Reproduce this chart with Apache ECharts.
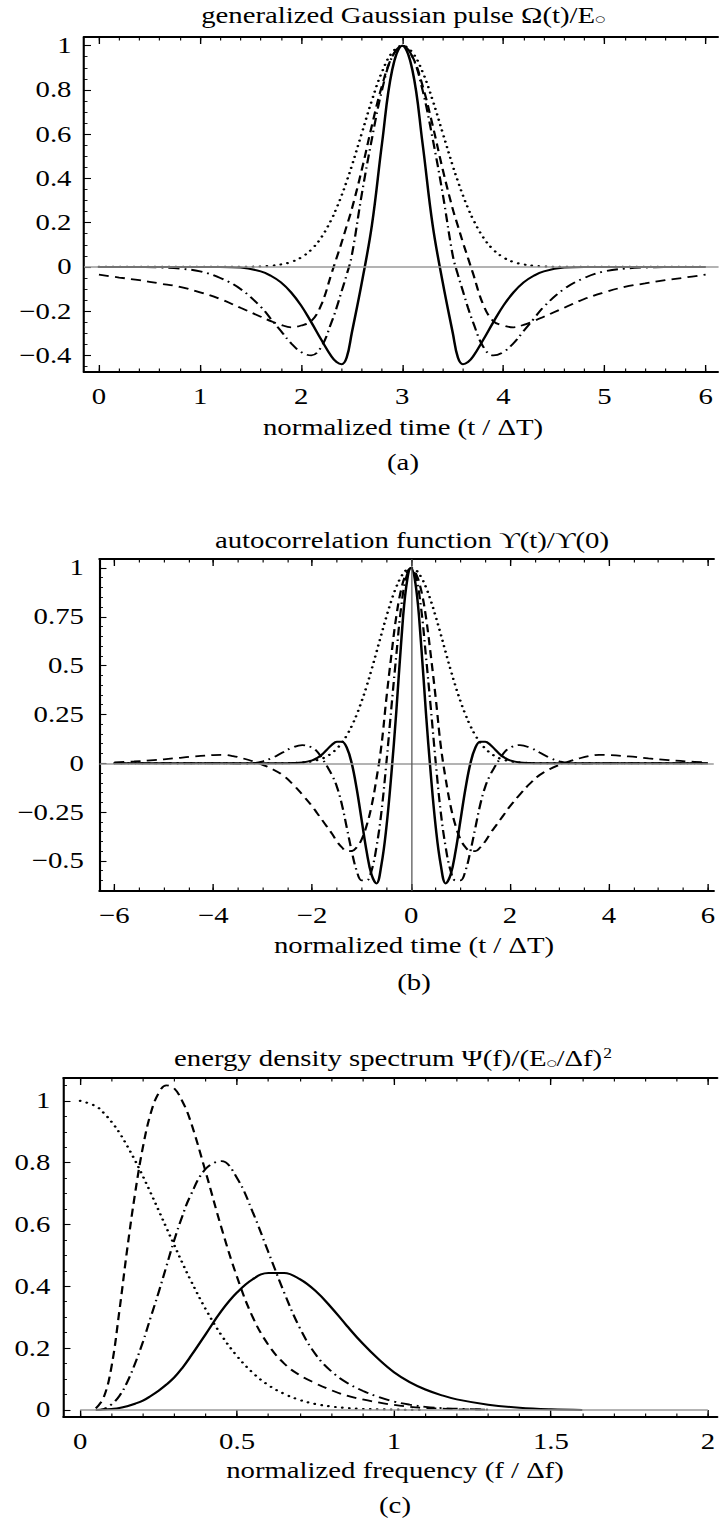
<!DOCTYPE html>
<html><head><meta charset="utf-8">
<script src="https://cdn.jsdelivr.net/npm/echarts@6/dist/echarts.min.js"></script>
<style>
html,body{margin:0;padding:0;background:#fff;overflow:hidden;}
#wrap{width:719px;height:1519px;overflow:hidden;position:relative;background:#fff;}
#chart{width:575.2px;height:1519px;transform:scaleX(1.25);transform-origin:0 0;}
</style></head><body><div id="wrap"><div id="chart"></div></div>
<script>
// ---------- Panel (a): generalized Gaussian pulse ----------
const aTime = [0,0.2,0.4,0.6,0.8,1.0,1.2,1.4,1.6,1.7,1.8,1.9,2.0,2.1,2.2,2.3,2.35,2.4,2.45,2.5,2.6,2.7,2.8,2.9,3.0,3.1,3.2,3.3,3.4,3.5,3.55,3.6,3.65,3.7,3.8,3.9,4.0,4.1,4.2,4.3,4.4,4.6,4.8,5.0,5.2,5.4,5.6,5.8,6.0];
const aSolid = [0,0,0,0,0,0,0,-0.003,-0.02,-0.04,-0.07,-0.115,-0.175,-0.25,-0.33,-0.405,-0.43,-0.44,-0.41,-0.3,-0.07,0.19,0.56,0.89,1,0.89,0.56,0.19,-0.07,-0.3,-0.41,-0.44,-0.43,-0.405,-0.33,-0.25,-0.175,-0.115,-0.07,-0.04,-0.02,-0.003,0,0,0,0,0,0,0];
const aDashed = [-0.035,-0.048,-0.06,-0.075,-0.09,-0.115,-0.145,-0.185,-0.225,-0.245,-0.262,-0.273,-0.265,-0.245,-0.17,-0.03,0.04,0.11,0.185,0.26,0.44,0.64,0.82,0.95,1,0.95,0.82,0.64,0.44,0.26,0.185,0.11,0.04,-0.03,-0.17,-0.245,-0.265,-0.273,-0.262,-0.245,-0.225,-0.185,-0.145,-0.115,-0.09,-0.075,-0.06,-0.048,-0.035];
const aDashDot = [0,0,-0.001,-0.003,-0.008,-0.02,-0.05,-0.10,-0.18,-0.235,-0.29,-0.345,-0.385,-0.40,-0.36,-0.25,-0.185,-0.11,-0.035,0.05,0.33,0.58,0.80,0.95,1,0.95,0.80,0.58,0.33,0.05,-0.035,-0.11,-0.185,-0.25,-0.36,-0.40,-0.385,-0.345,-0.29,-0.235,-0.18,-0.10,-0.05,-0.02,-0.008,-0.003,-0.001,0,0];
const aDotted = [0,0,0,0,0,0,0,0,0.002,0.005,0.011,0.022,0.043,0.078,0.134,0.215,0.266,0.323,0.387,0.456,0.605,0.754,0.882,0.969,1,0.969,0.882,0.754,0.605,0.456,0.387,0.323,0.266,0.215,0.134,0.078,0.043,0.022,0.011,0.005,0.002,0,0,0,0,0,0,0,0];
const aXTicks = [0,1,2,3,4,5,6];
const aXLabels = ['0','1','2','3','4','5','6'];
const aYTicks = [-0.4,-0.2,0,0.2,0.4,0.6,0.8,1];
const aYLabels = ['\u22120.4','\u22120.2','0','0.2','0.4','0.6','0.8','1'];

// ---------- Panel (b): autocorrelation ----------
const bTime = [-6,-5.6,-5.2,-4.8,-4.4,-4,-3.8,-3.6,-3.4,-3.2,-3,-2.8,-2.6,-2.4,-2.2,-2,-1.9,-1.8,-1.7,-1.6,-1.5,-1.4,-1.3,-1.2,-1.1,-1,-0.9,-0.8,-0.7,-0.6,-0.5,-0.4,-0.3,-0.2,-0.1,0,0.1,0.2,0.3,0.4,0.5,0.6,0.7,0.8,0.9,1,1.1,1.2,1.3,1.4,1.5,1.6,1.7,1.8,1.9,2,2.2,2.4,2.6,2.8,3,3.2,3.4,3.6,3.8,4,4.4,4.8,5.2,5.6,6];
const bSolid = [0,0,0,0,0,0,0,0,0,0,0,0,0,0.001,0.004,0.015,0.027,0.045,0.07,0.095,0.11,0.11,0.08,0.0,-0.13,-0.29,-0.45,-0.57,-0.615,-0.52,-0.33,-0.06,0.26,0.62,0.90,1,0.90,0.62,0.26,-0.06,-0.33,-0.52,-0.615,-0.57,-0.45,-0.29,-0.13,0.0,0.08,0.11,0.11,0.095,0.07,0.045,0.027,0.015,0.004,0.001,0,0,0,0,0,0,0,0,0,0,0,0,0];
const bDashed = [0.005,0.009,0.016,0.025,0.035,0.042,0.043,0.037,0.025,0.01,-0.008,-0.03,-0.06,-0.105,-0.16,-0.22,-0.255,-0.29,-0.325,-0.36,-0.40,-0.43,-0.45,-0.45,-0.43,-0.39,-0.32,-0.22,-0.08,0.09,0.33,0.55,0.75,0.89,0.97,1,0.97,0.89,0.75,0.55,0.33,0.09,-0.08,-0.22,-0.32,-0.39,-0.43,-0.45,-0.45,-0.43,-0.40,-0.36,-0.325,-0.29,-0.255,-0.22,-0.16,-0.105,-0.06,-0.03,-0.008,0.01,0.025,0.037,0.043,0.042,0.035,0.025,0.016,0.009,0.005];
const bDashDot = [0,0,0,0,0,0,-0.001,-0.002,-0.003,0.0,0.01,0.028,0.055,0.08,0.093,0.08,0.06,0.025,-0.015,-0.06,-0.12,-0.21,-0.33,-0.45,-0.55,-0.60,-0.60,-0.55,-0.43,-0.25,0.0,0.28,0.55,0.80,0.95,1,0.95,0.80,0.55,0.28,0.0,-0.25,-0.43,-0.55,-0.60,-0.60,-0.55,-0.45,-0.33,-0.21,-0.12,-0.06,-0.015,0.025,0.06,0.08,0.093,0.08,0.055,0.028,0.01,0.0,-0.003,-0.002,-0.001,0,0,0,0,0,0];
const bDotted = [0,0,0,0,0,0,0,0,0,0,0,0,0,0.001,0.004,0.010,0.016,0.024,0.036,0.053,0.075,0.105,0.143,0.191,0.249,0.317,0.394,0.479,0.569,0.661,0.750,0.832,0.902,0.955,0.989,1,0.989,0.955,0.902,0.832,0.750,0.661,0.569,0.479,0.394,0.317,0.249,0.191,0.143,0.105,0.075,0.053,0.036,0.024,0.016,0.010,0.004,0.001,0,0,0,0,0,0,0,0,0,0,0,0,0];
const bXTicks = [-6,-4,-2,0,2,4,6];
const bXLabels = ['\u22126','\u22124','\u22122','0','2','4','6'];
const bYTicks = [-0.5,-0.25,0,0.25,0.5,0.75,1];
const bYLabels = ['\u22120.5','\u22120.25','0','0.25','0.5','0.75','1'];

// ---------- Panel (c): energy density spectrum ----------
const cFreq = [0,0.05,0.075,0.1,0.125,0.15,0.175,0.2,0.225,0.25,0.275,0.3,0.325,0.35,0.4,0.45,0.5,0.55,0.6,0.65,0.7,0.75,0.8,0.85,0.9,0.95,1.0,1.05,1.1,1.15,1.2,1.3,1.4,1.5,1.6];
const cSolid = [null,0,0.001,0.003,0.006,0.012,0.02,0.03,0.045,0.062,0.082,0.105,0.135,0.17,0.245,0.32,0.38,0.423,0.443,0.443,0.423,0.385,0.332,0.272,0.215,0.165,0.122,0.09,0.066,0.048,0.034,0.017,0.007,0.002,0];
const cDashed = [null,0.005,0.04,0.14,0.32,0.52,0.70,0.85,0.96,1.025,1.05,1.04,1.0,0.94,0.77,0.59,0.43,0.30,0.21,0.15,0.112,0.086,0.064,0.046,0.034,0.024,0.016,0.010,0.006,0.004,0.002,0.001,null,null,null];
const cDashDot = [null,0,0.003,0.018,0.045,0.09,0.15,0.22,0.30,0.38,0.465,0.55,0.625,0.69,0.78,0.805,0.75,0.64,0.51,0.38,0.265,0.18,0.125,0.088,0.062,0.042,0.027,0.017,0.01,0.006,0.004,0.001,null,null,null];
const cDotted = [1,0.983,0.961,0.932,0.897,0.854,0.807,0.756,0.702,0.646,0.589,0.533,0.477,0.424,0.326,0.242,0.174,0.120,0.080,0.052,0.032,0.019,0.011,0.006,0.003,0.002,0.001,0,0,null,null,null,null,null,null];
const cXTicks = [0,0.5,1,1.5,2];
const cXLabels = ['0','0.5','1','1.5','2'];
const cYTicks = [0,0.2,0.4,0.6,0.8,1];
const cYLabels = ['0','0.2','0.4','0.6','0.8','1'];

// ---------- helpers ----------
const SX = 1.25;
const FONT = '"Liberation Serif","Times New Roman",serif';
const FS = 23;
function lab(ticks, labels) {
  return function (v) {
    for (let i = 0; i < ticks.length; i++) if (Math.abs(ticks[i] - v) < 1e-6) return labels[i];
    return '';
  };
}
function steps(lo, hi, st) {
  const r = [];
  const n = Math.round((hi - lo) / st);
  for (let i = 0; i <= n; i++) r.push(+(lo + i * st).toFixed(5));
  return r;
}
function zip(xs, ys) { return xs.map((x, i) => [x, ys[i]]); }

function xAxes(gi, min, max, ticks, labels, minor) {
  const c = { type: 'value', gridIndex: gi, min: min, max: max, splitLine: { show: false }, silent: true };
  const major = { show: true, inside: true, length: 7, customValues: ticks, lineStyle: { color: '#000', width: 1.1 } };
  const mnr = { show: true, inside: true, length: 3.5, customValues: minor, lineStyle: { color: '#000', width: 0.9 } };
  return [
    Object.assign({}, c, { position: 'bottom', axisLine: { show: true, onZero: false, lineStyle: { color: '#000', width: 2 } },
      axisTick: major, axisLabel: { show: true, customValues: ticks, formatter: lab(ticks, labels), margin: 13, color: '#000', fontFamily: FONT, fontSize: FS } }),
    Object.assign({}, c, { position: 'bottom', axisLine: { show: false, onZero: false }, axisTick: mnr, axisLabel: { show: false } }),
    Object.assign({}, c, { position: 'top', axisLine: { show: true, onZero: false, lineStyle: { color: '#000', width: 2 } }, axisTick: major, axisLabel: { show: false } }),
    Object.assign({}, c, { position: 'top', axisLine: { show: false, onZero: false }, axisTick: mnr, axisLabel: { show: false } })
  ];
}
function yAxes(gi, min, max, ticks, labels, minor, margin) {
  const c = { type: 'value', gridIndex: gi, min: min, max: max, splitLine: { show: false }, silent: true, position: 'left' };
  return [
    Object.assign({}, c, { axisLine: { show: true, onZero: false, lineStyle: { color: '#000', width: 1.7 } },
      axisTick: { show: true, inside: true, length: 5.6, customValues: ticks, lineStyle: { color: '#000', width: 1.1 } },
      axisLabel: { show: true, customValues: ticks, formatter: lab(ticks, labels), margin: margin, color: '#000', fontFamily: FONT, fontSize: FS } }),
    Object.assign({}, c, { axisLine: { show: false, onZero: false },
      axisTick: { show: true, inside: true, length: 2.8, customValues: minor, lineStyle: { color: '#000', width: 0.9 } }, axisLabel: { show: false } })
  ];
}

const STY = {
  solid: { color: '#000', width: 2, type: 'solid' },
  dashed: { color: '#000', width: 1.8, type: [8, 5] },
  dashdot: { color: '#000', width: 1.8, type: [9, 4, 1.5, 4] },
  dotted: { color: '#000', width: 2.2, type: [0.1, 5.5], cap: 'round' }
};
function line(xi, yi, xs, ys, sty) {
  return { type: 'line', xAxisIndex: xi, yAxisIndex: yi, data: zip(xs, ys), showSymbol: false, symbol: 'none',
    smooth: 0.4, lineStyle: sty, silent: true, animation: false, z: 3 };
}
function zeroLines(xi, yi, lines) {
  return { type: 'line', xAxisIndex: xi, yAxisIndex: yi, data: [], silent: true, animation: false, z: 2,
    markLine: { silent: true, symbol: 'none', animation: false, label: { show: false }, data: lines } };
}

const aRange = { xmin: -0.148, xmax: 6.13, ymin: -0.475, ymax: 1.039 };
const bRange = { xmin: -6.3, xmax: 6.12, ymin: -0.654, ymax: 1.046 };
const cRange = { xmin: -0.053, xmax: 2.03, ymin: -0.023, ymax: 1.074 };

const xAxis = [].concat(
  xAxes(0, aRange.xmin, aRange.xmax, aXTicks, aXLabels, steps(0, 6, 0.2)),
  xAxes(1, bRange.xmin, bRange.xmax, bXTicks, bXLabels, steps(-6, 6, 0.5)),
  xAxes(2, cRange.xmin, cRange.xmax, cXTicks, cXLabels, steps(0, 2, 0.1))
);
const yAxis = [].concat(
  yAxes(0, aRange.ymin, aRange.ymax, aYTicks, aYLabels, steps(-0.45, 1, 0.05), 10),
  yAxes(1, bRange.ymin, bRange.ymax, bYTicks, bYLabels, steps(-0.65, 1, 0.05), 12.5),
  yAxes(2, cRange.ymin, cRange.ymax, cYTicks, cYLabels, steps(0, 1.05, 0.05), 10.5)
);

const gray = { color: '#9a9a9a', width: 1.5, type: 'solid' };
const series = [
  zeroLines(0, 0, [{ yAxis: 0, lineStyle: gray }]),
  line(0, 0, aTime, aDotted, STY.dotted),
  line(0, 0, aTime, aDashed, STY.dashed),
  line(0, 0, aTime, aDashDot, STY.dashdot),
  line(0, 0, aTime, aSolid, STY.solid),

  zeroLines(4, 2, [{ yAxis: 0, lineStyle: gray }, { xAxis: 0, lineStyle: { color: '#555', width: 1, type: 'solid' } }]),
  line(4, 2, bTime, bDotted, STY.dotted),
  line(4, 2, bTime, bDashed, STY.dashed),
  line(4, 2, bTime, bDashDot, STY.dashdot),
  line(4, 2, bTime, bSolid, STY.solid),

  zeroLines(8, 4, [[{ coord: [0, 0], lineStyle: gray }, { coord: [2, 0] }]]),
  line(8, 4, cFreq, cDotted, STY.dotted),
  line(8, 4, cFreq, cDashed, STY.dashed),
  line(8, 4, cFreq, cDashDot, STY.dashdot),
  line(8, 4, cFreq, cSolid, STY.solid)
];

function txt(x, y, text, rich) {
  const st = { text: text, fill: '#000', font: FS + 'px ' + FONT, fontFamily: FONT, fontSize: FS,
    align: 'center', verticalAlign: 'middle', textAlign: 'center', textVerticalAlign: 'middle' };
  if (rich) st.rich = rich;
  return { type: 'text', x: x, y: y, silent: true, style: st };
}
const richT = {
  t: { fontFamily: FONT, fontSize: FS, color: '#000' },
  s: { fontFamily: 'DejaVu Sans', fontSize: 9, color: '#000', verticalAlign: 'bottom', padding: [0, 0, 3, 0] },
  p: { fontFamily: FONT, fontSize: 14, color: '#000', verticalAlign: 'top', padding: [0, 0, 10, 1] }
};

const graphic = [
  txt(403 / SX, 15, '{t|generalized Gaussian pulse \u03A9(t)/E}{s|\u25CB}', richT),
  txt(403 / SX, 427, 'normalized time (t / \u0394T)'),
  txt(403 / SX, 462, '(a)'),
  txt(412 / SX, 540, 'autocorrelation function \u03D2(t)/\u03D2(0)'),
  txt(414 / SX, 945, 'normalized time (t / \u0394T)'),
  txt(414 / SX, 982, '(b)'),
  txt(393 / SX, 1058, '{t|energy density spectrum \u03A8(f)/(E}{s|\u25CB}{t|/\u0394f)}{p|2}', richT),
  txt(395 / SX, 1470, 'normalized frequency (f / \u0394f)'),
  txt(395 / SX, 1505, '(c)')
];

const chart = echarts.init(document.getElementById('chart'), null, { renderer: 'svg' });
chart.setOption({
  backgroundColor: '#fff',
  animation: false,
  grid: [
    { left: 84 / SX, top: 37, right: 0, height: 335 },
    { left: 99.5 / SX, top: 559, right: 0, height: 332 },
    { left: 63.5 / SX, top: 1078, right: 0, height: 339 }
  ],
  xAxis: xAxis,
  yAxis: yAxis,
  series: series,
  graphic: graphic
});
</script></body></html>
